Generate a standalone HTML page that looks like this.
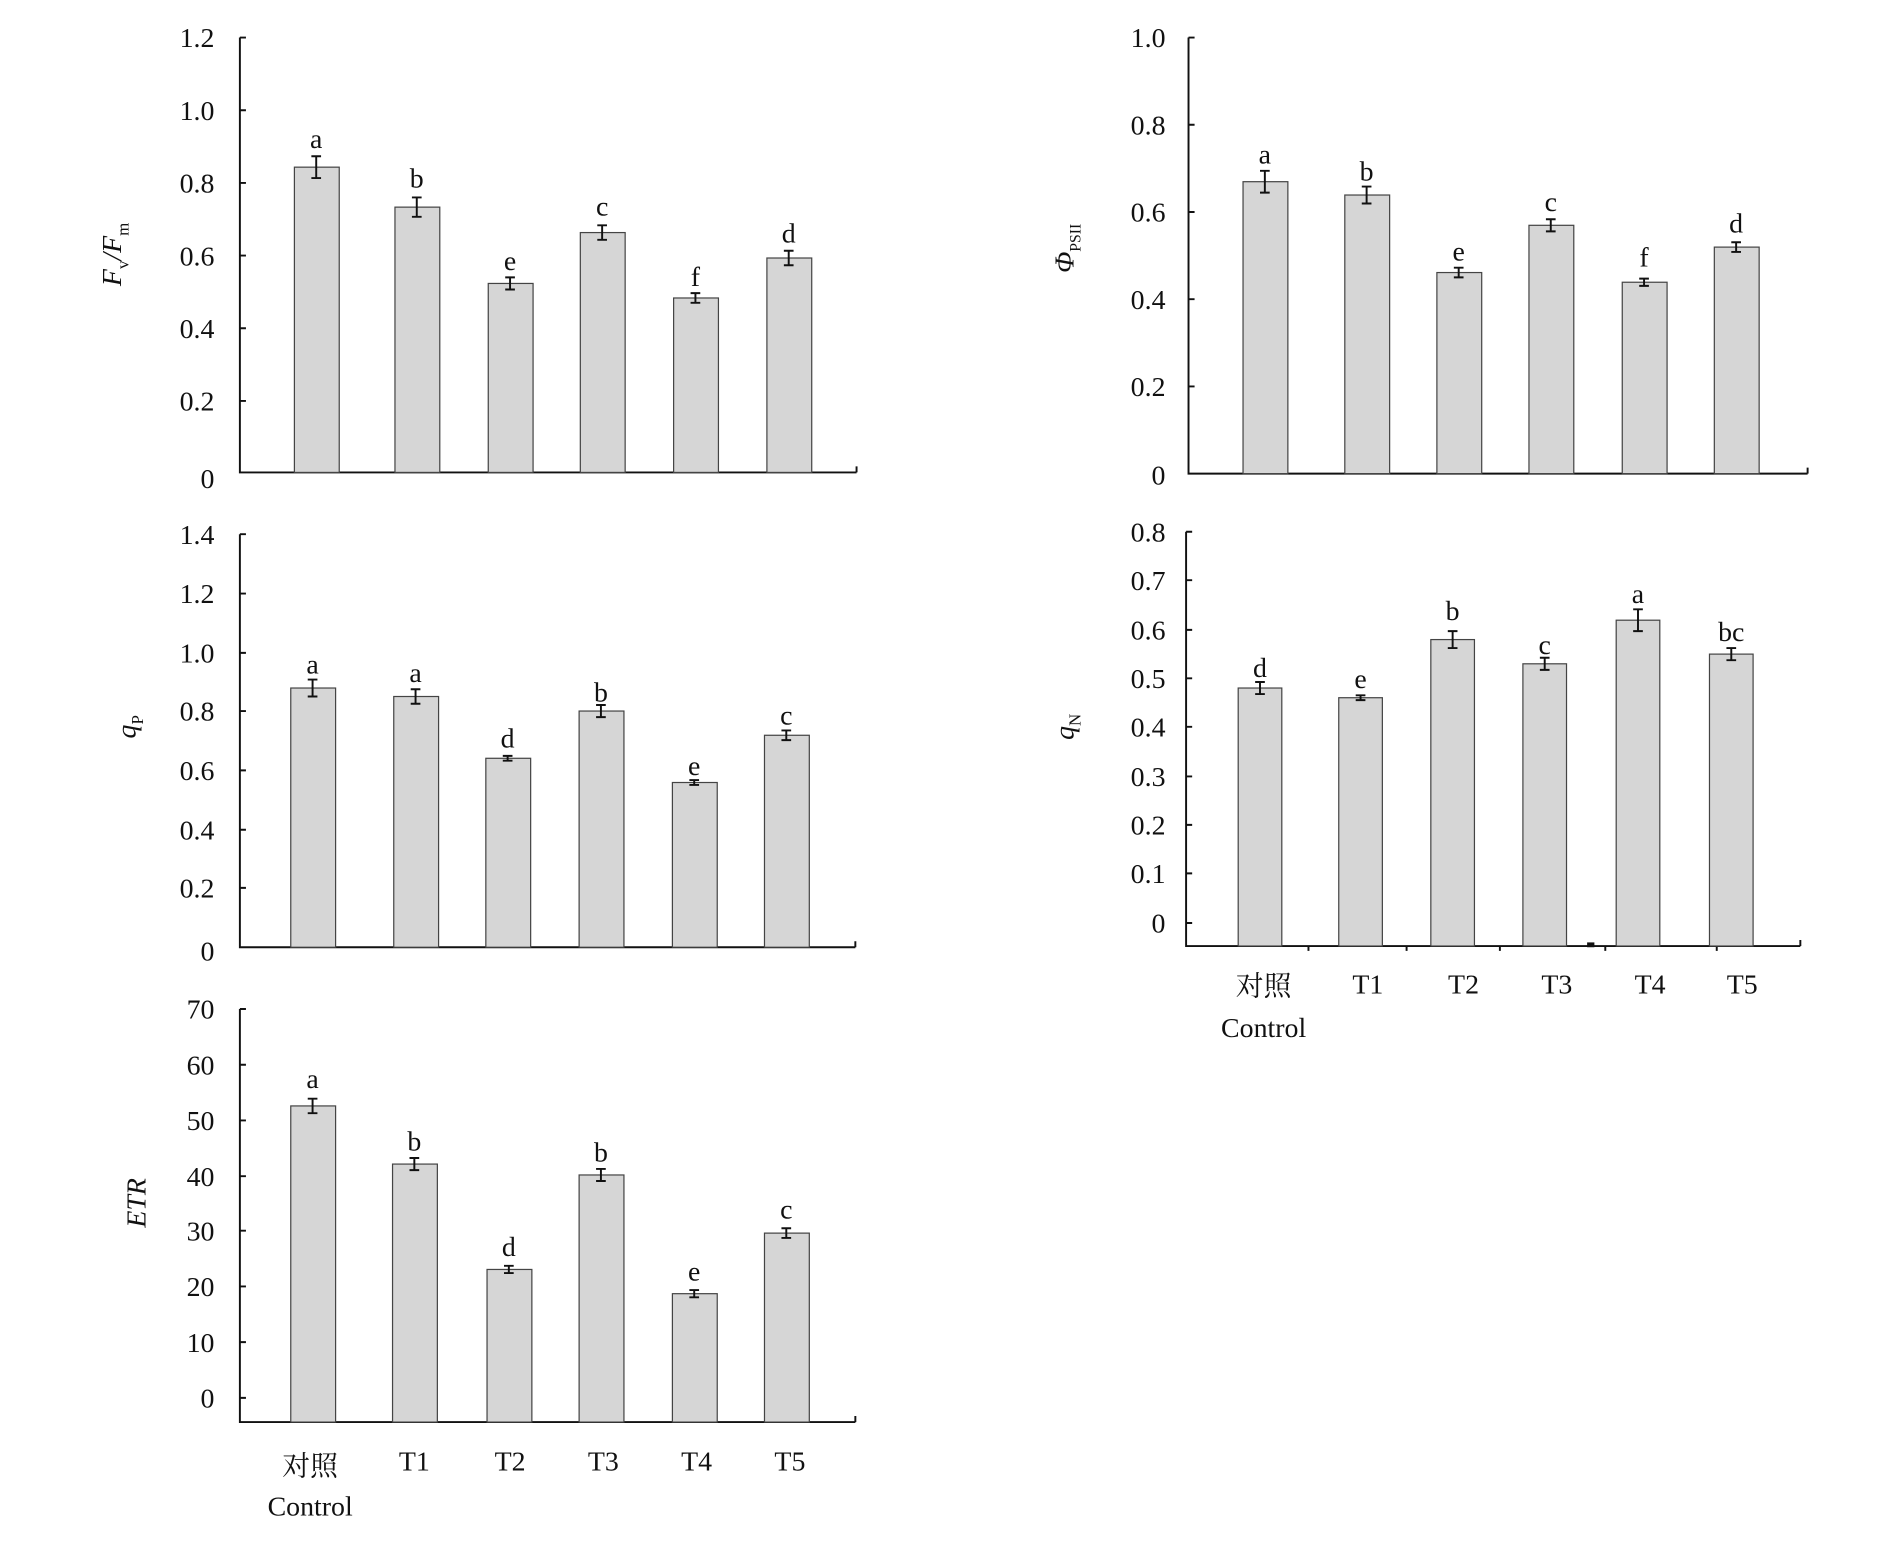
<!DOCTYPE html>
<html><head><meta charset="utf-8"><style>html,body{margin:0;padding:0;background:#fff}svg{display:block}</style></head><body>
<svg width="1890" height="1542" viewBox="0 0 1560 1273" preserveAspectRatio="none" xmlns="http://www.w3.org/2000/svg" font-family="Liberation Serif, 'Noto Serif CJK SC', serif">
<style>
.ax{stroke:#111;stroke-width:1.6;fill:none}
.bar{fill:#d6d6d6;stroke:#444;stroke-width:1}
.eb{stroke:#111;stroke-width:1.6}
.tl{font-size:23px;text-anchor:end;fill:#111}
.lt{font-size:23px;text-anchor:middle;fill:#111}
.xl{font-size:23px;text-anchor:middle;fill:#111}
</style>

<!-- Panel 1 Fv/Fm -->
<g>
<path class="ax" d="M198 31V390H707M707 385V390"/>
<g class="ax"><path d="M198 31h5M198 91h5M198 151h5M198 211h5M198 271h5M198 331h5"/></g>
<g class="tl"><text x="177" y="39">1.2</text><text x="177" y="99">1.0</text><text x="177" y="159">0.8</text><text x="177" y="219">0.6</text><text x="177" y="279">0.4</text><text x="177" y="339">0.2</text><text x="177" y="403">0</text></g>
<rect class="bar" x="243" y="138" width="37" height="252"/>
<rect class="bar" x="326" y="171" width="37" height="219"/>
<rect class="bar" x="403" y="234" width="37" height="156"/>
<rect class="bar" x="479" y="192" width="37" height="198"/>
<rect class="bar" x="556" y="246" width="37" height="144"/>
<rect class="bar" x="633" y="213" width="37" height="177"/>
<g class="eb"><path d="M261 129v18M257 129h8M257 147h8 M344 163v16M340 163h8M340 179h8 M421 229v10M417 229h8M417 239h8 M497 186v12M493 186h8M493 198h8 M574 242v8M570 242h8M570 250h8 M651 207v12M647 207h8M647 219h8"/></g>
<g class="lt"><text x="261" y="122">a</text><text x="344" y="155">b</text><text x="421" y="223">e</text><text x="497" y="178">c</text><text x="574" y="236">f</text><text x="651" y="200">d</text></g>
<text transform="translate(100,210) rotate(-90)" class="xl" font-style="italic">F<tspan font-size="14" dy="6" font-style="normal">v</tspan><tspan dy="-6">/F</tspan><tspan font-size="14" dy="6" font-style="normal">m</tspan></text>
</g>

<!-- Panel 2 PhiPSII -->
<g>
<path class="ax" d="M981 31V391H1492M1492 386V391"/>
<g class="ax"><path d="M981 31h5M981 103h5M981 175h5M981 247h5M981 319h5"/></g>
<g class="tl"><text x="962" y="39">1.0</text><text x="962" y="111">0.8</text><text x="962" y="183">0.6</text><text x="962" y="255">0.4</text><text x="962" y="327">0.2</text><text x="962" y="400">0</text></g>
<rect class="bar" x="1026" y="150" width="37" height="241"/>
<rect class="bar" x="1110" y="161" width="37" height="230"/>
<rect class="bar" x="1186" y="225" width="37" height="166"/>
<rect class="bar" x="1262" y="186" width="37" height="205"/>
<rect class="bar" x="1339" y="233" width="37" height="158"/>
<rect class="bar" x="1415" y="204" width="37" height="187"/>
<g class="eb"><path d="M1044 141v18M1040 141h8M1040 159h8 M1128 154v14M1124 154h8M1124 168h8 M1204 221v8M1200 221h8M1200 229h8 M1280 181v10M1276 181h8M1276 191h8 M1357 230v6M1353 230h8M1353 236h8 M1433 200v8M1429 200h8M1429 208h8"/></g>
<g class="lt"><text x="1044" y="135">a</text><text x="1128" y="149">b</text><text x="1204" y="215">e</text><text x="1280" y="174">c</text><text x="1357" y="220">f</text><text x="1433" y="192">d</text></g>
<text transform="translate(886,205) rotate(-90)" class="xl" font-style="italic">Φ<tspan font-size="13" dy="6" font-style="normal">PSII</tspan></text>
</g>

<!-- Panel 3 qP -->
<g>
<path class="ax" d="M198 441V782H706M706 777V782"/>
<g class="ax"><path d="M198 441h5M198 490h5M198 539h5M198 587h5M198 636h5M198 685h5M198 733h5"/></g>
<g class="tl"><text x="177" y="449">1.4</text><text x="177" y="498">1.2</text><text x="177" y="547">1.0</text><text x="177" y="595">0.8</text><text x="177" y="644">0.6</text><text x="177" y="693">0.4</text><text x="177" y="741">0.2</text><text x="177" y="793">0</text></g>
<rect class="bar" x="240" y="568" width="37" height="214"/>
<rect class="bar" x="325" y="575" width="37" height="207"/>
<rect class="bar" x="401" y="626" width="37" height="156"/>
<rect class="bar" x="478" y="587" width="37" height="195"/>
<rect class="bar" x="555" y="646" width="37" height="136"/>
<rect class="bar" x="631" y="607" width="37" height="175"/>
<g class="eb"><path d="M258 561v14M254 561h8M254 575h8 M343 569v12M339 569h8M339 581h8 M419 624v4M415 624h8M415 628h8 M496 582v10M492 582h8M492 592h8 M573 644v4M569 644h8M569 648h8 M649 603v8M645 603h8M645 611h8"/></g>
<g class="lt"><text x="258" y="556">a</text><text x="343" y="563">a</text><text x="419" y="617">d</text><text x="496" y="579">b</text><text x="573" y="640">e</text><text x="649" y="598">c</text></g>
<text transform="translate(112,600) rotate(-90)" class="xl" font-style="italic">q<tspan font-size="14" dy="6" font-style="normal">P</tspan></text>
</g>

<!-- Panel 4 qN -->
<g>
<path class="ax" d="M979 439V781H1486M1486 776V781"/>
<g class="ax"><path d="M979 439h5M979 479h5M979 520h5M979 560h5M979 600h5M979 641h5M979 681h5M979 721h5M979 762h5 M1080 781v4M1161 781v4M1238 781v4M1325 781v4M1417 781v4"/></g>
<rect x="1310" y="778" width="6" height="4" fill="#111"/>
<g class="tl"><text x="962" y="447">0.8</text><text x="962" y="487">0.7</text><text x="962" y="528">0.6</text><text x="962" y="568">0.5</text><text x="962" y="608">0.4</text><text x="962" y="649">0.3</text><text x="962" y="689">0.2</text><text x="962" y="729">0.1</text><text x="962" y="770">0</text></g>
<rect class="bar" x="1022" y="568" width="36" height="213"/>
<rect class="bar" x="1105" y="576" width="36" height="205"/>
<rect class="bar" x="1181" y="528" width="36" height="253"/>
<rect class="bar" x="1257" y="548" width="36" height="233"/>
<rect class="bar" x="1334" y="512" width="36" height="269"/>
<rect class="bar" x="1411" y="540" width="36" height="241"/>
<g class="eb"><path d="M1040 563v10M1036 563h8M1036 573h8 M1123 574v4M1119 574h8M1119 578h8 M1199 521v14M1195 521h8M1195 535h8 M1275 543v10M1271 543h8M1271 553h8 M1352 503v18M1348 503h8M1348 521h8 M1429 535v10M1425 535h8M1425 545h8"/></g>
<g class="lt"><text x="1040" y="559">d</text><text x="1123" y="568">e</text><text x="1199" y="512">b</text><text x="1275" y="540">c</text><text x="1352" y="498">a</text><text x="1429" y="529">bc</text></g>
<text transform="translate(886,600) rotate(-90)" class="xl" font-style="italic">q<tspan font-size="14" dy="6" font-style="normal">N</tspan></text>
<g class="xl"><text x="1043" y="822">对照</text><text x="1043" y="856">Control</text><text x="1129" y="820">T1</text><text x="1208" y="820">T2</text><text x="1285" y="820">T3</text><text x="1362" y="820">T4</text><text x="1438" y="820">T5</text></g>
</g>

<!-- Panel 5 ETR -->
<g>
<path class="ax" d="M198 833V1174H706M706 1169V1174"/>
<g class="ax"><path d="M198 833h5M198 879h5M198 925h5M198 971h5M198 1016h5M198 1062h5M198 1108h5M198 1154h5"/></g>
<g class="tl"><text x="177" y="841">70</text><text x="177" y="887">60</text><text x="177" y="933">50</text><text x="177" y="979">40</text><text x="177" y="1024">30</text><text x="177" y="1070">20</text><text x="177" y="1116">10</text><text x="177" y="1162">0</text></g>
<rect class="bar" x="240" y="913" width="37" height="261"/>
<rect class="bar" x="324" y="961" width="37" height="213"/>
<rect class="bar" x="402" y="1048" width="37" height="126"/>
<rect class="bar" x="478" y="970" width="37" height="204"/>
<rect class="bar" x="555" y="1068" width="37" height="106"/>
<rect class="bar" x="631" y="1018" width="37" height="156"/>
<g class="eb"><path d="M258 907v12M254 907h8M254 919h8 M342 956v10M338 956h8M338 966h8 M420 1045v6M416 1045h8M416 1051h8 M496 965v10M492 965h8M492 975h8 M573 1065v6M569 1065h8M569 1071h8 M649 1014v8M645 1014h8M645 1022h8"/></g>
<g class="lt"><text x="258" y="898">a</text><text x="342" y="950">b</text><text x="420" y="1037">d</text><text x="496" y="959">b</text><text x="573" y="1057">e</text><text x="649" y="1006">c</text></g>
<text transform="translate(120,993) rotate(-90)" class="xl" font-style="italic">ETR</text>
<g class="xl"><text x="256" y="1218">对照</text><text x="256" y="1251">Control</text><text x="342" y="1214">T1</text><text x="421" y="1214">T2</text><text x="498" y="1214">T3</text><text x="575" y="1214">T4</text><text x="652" y="1214">T5</text></g>
</g>
</svg>
</body></html>
